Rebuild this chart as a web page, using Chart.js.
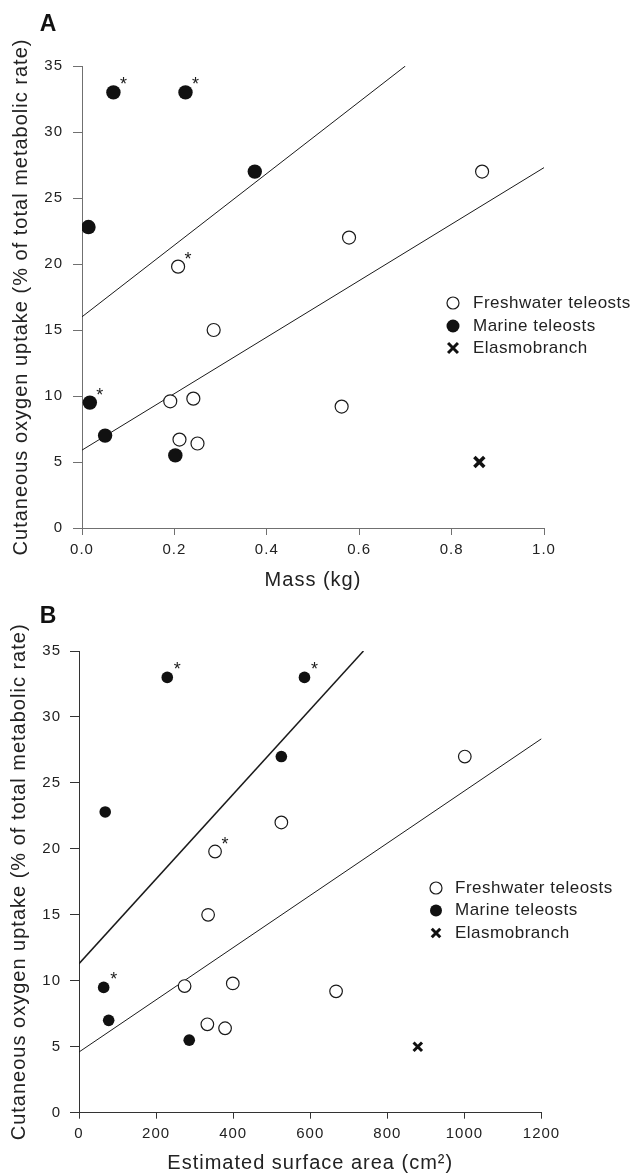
<!DOCTYPE html>
<html>
<head>
<meta charset="utf-8">
<script src="https://cdn.jsdelivr.net/npm/chart.js@4.4.1/dist/chart.umd.min.js"></script>
<style>
  body { margin: 0; background: #fff; }
  canvas { display: block; }
</style>
</head>
<body>
<canvas id="panelA" width="634" height="595"></canvas>
<canvas id="panelB" width="634" height="580"></canvas>
<script>
// uptake values (% of total metabolic rate), same fish in both panels
const freshUptake  = [19.8, 15.0, 9.6, 9.8, 6.7, 6.4, 22.0, 9.2, 27.0];
const marineUptake = [33.0, 33.0, 27.0, 22.8, 9.5, 7.0, 5.5];
const elasmoUptake = [5.0];

// which points carry an asterisk
const freshStar  = [true, false, false, false, false, false, false, false, false];
const marineStar = [true, true, false, false, true, false, false];

// panel A: body mass (kg)
const freshMass  = [0.208, 0.285, 0.191, 0.241, 0.211, 0.250, 0.578, 0.562, 0.866];
const marineMass = [0.068, 0.224, 0.374, 0.014, 0.017, 0.050, 0.202];
const elasmoMass = [0.86];
const lineHighMassX = [0, 0.70];
const lineHighMassY = [16.0, 35.0];
const lineLowMassX  = [0, 1.0];
const lineLowMassY  = [5.9, 27.3];

// panel B: estimated surface area (cm2)
const freshArea  = [353, 335, 274, 399, 333, 379, 525, 667, 1001];
const marineArea = [229, 585, 525, 68, 64, 77, 286];
const elasmoArea = [879];
const lineHighAreaX = [0, 738];
const lineHighAreaY = [11.3, 35.0];
const lineLowAreaX  = [0, 1200];
const lineLowAreaY  = [4.6, 28.35];

const yTicks = [0, 5, 10, 15, 20, 25, 30, 35];
const massTicks = [0, 0.2, 0.4, 0.6, 0.8, 1.0];
const areaTicks = [0, 200, 400, 600, 800, 1000, 1200];

const legendLabels = ['Freshwater teleosts', 'Marine teleosts', 'Elasmobranch'];
const yTitle = 'Cutaneous oxygen uptake (% of total metabolic rate)';

const ink = '#1a1a1a';
Chart.defaults.font.family = "'Liberation Sans', Arial, sans-serif";
Chart.defaults.color = '#222';

const zip = (xs, ys) => xs.map((x, i) => ({x: x, y: ys[i]}));

function drawMarker(ctx, kind, x, y, r, lw) {
  ctx.beginPath();
  if (kind === 'open') {
    ctx.arc(x, y, r, 0, Math.PI * 2);
    ctx.fillStyle = '#fff';
    ctx.fill();
    ctx.lineWidth = 1.2;
    ctx.strokeStyle = ink;
    ctx.stroke();
  } else if (kind === 'filled') {
    ctx.arc(x, y, r, 0, Math.PI * 2);
    ctx.fillStyle = '#111';
    ctx.fill();
  } else {
    const d = r * Math.SQRT1_2;
    ctx.moveTo(x - d, y - d); ctx.lineTo(x + d, y + d);
    ctx.moveTo(x + d, y - d); ctx.lineTo(x - d, y + d);
    ctx.lineWidth = lw;
    ctx.strokeStyle = '#111';
    ctx.stroke();
  }
}

const extras = {
  id: 'extras',
  beforeDraw(chart) {
    chart.ctx.letterSpacing = '1px';
  },
  afterDatasetsDraw(chart, args, o) {
    const ctx = chart.ctx;
    ctx.save();
    // asterisks next to flagged points
    ctx.fillStyle = ink;
    ctx.font = "18px 'Liberation Sans', Arial, sans-serif";
    ctx.letterSpacing = '0px';
    ctx.textAlign = 'center';
    ctx.textBaseline = 'alphabetic';
    chart.data.datasets.forEach((ds, i) => {
      if (!ds.stars) return;
      chart.getDatasetMeta(i).data.forEach((pt, j) => {
        if (ds.stars[j]) ctx.fillText('*', pt.x + 10, pt.y - 12 + 10);
      });
    });
    // legend
    const kinds = ['open', 'filled', 'cross'];
    ctx.font = "17px 'Liberation Sans', Arial, sans-serif";
    ctx.letterSpacing = '0.5px';
    ctx.textAlign = 'left';
    ctx.textBaseline = 'middle';
    o.rows.forEach((y, i) => {
      drawMarker(ctx, kinds[i], o.mx, y, o.legR[i], o.crossW);
      ctx.fillStyle = '#222';
      ctx.fillText(legendLabels[i], o.tx, y);
    });
    // panel letter
    ctx.letterSpacing = '0px';
    ctx.font = "bold 23px 'Liberation Sans', Arial, sans-serif";
    ctx.textAlign = 'center';
    ctx.fillStyle = '#111';
    ctx.fillText(o.letter, o.lx, o.ly);
    ctx.restore();
  }
};

function makePanel(id, p) {
  new Chart(document.getElementById(id), {
    type: 'scatter',
    data: {
      datasets: [
        {
          label: legendLabels[0], data: zip(p.freshX, freshUptake), stars: freshStar,
          pointRadius: p.openR, pointBackgroundColor: '#fff', pointBorderColor: ink,
          pointBorderWidth: 1.2, order: 1
        },
        {
          label: legendLabels[1], data: zip(p.marineX, marineUptake), stars: marineStar,
          pointRadius: p.filledR, pointBackgroundColor: '#111', pointBorderColor: '#111',
          pointBorderWidth: 0, order: 1
        },
        {
          label: legendLabels[2], data: zip(p.elasmoX, elasmoUptake),
          pointStyle: 'crossRot', pointRadius: p.crossR, pointBorderColor: '#111',
          pointBorderWidth: p.crossW, order: 1
        },
        {
          data: zip(p.highX, p.highY), showLine: true, pointRadius: 0,
          borderColor: ink, borderWidth: p.highW, order: 2
        },
        {
          data: zip(p.lowX, p.lowY), showLine: true, pointRadius: 0,
          borderColor: ink, borderWidth: 1, order: 2
        }
      ]
    },
    options: {
      responsive: false,
      animation: false,
      devicePixelRatio: 1,
      events: [],
      layout: { padding: p.pad },
      plugins: {
        legend: { display: false },
        tooltip: { enabled: false },
        extras: p.extras
      },
      scales: {
        x: {
          type: 'linear', min: p.xTicks[0], max: p.xTicks[p.xTicks.length - 1],
          afterBuildTicks: s => { s.ticks = p.xTicks.map(v => ({value: v})); },
          afterFit: s => { s.height = p.xHeight; },
          grid: { drawOnChartArea: false, tickLength: p.xTickLen, color: p.axisColor },
          border: { color: p.axisColor, width: 1 },
          ticks: { font: { size: 15 }, padding: 6, maxRotation: 0, callback: p.xFmt },
          title: { display: true, text: p.xTitle, font: { size: 20 }, padding: { top: 0, bottom: p.xTitlePad } }
        },
        y: {
          type: 'linear', min: 0, max: 35,
          afterBuildTicks: s => { s.ticks = yTicks.map(v => ({value: v})); },
          afterFit: s => { s.width = p.yWidth; },
          grid: { drawOnChartArea: false, tickLength: 9, color: p.axisColor },
          border: { color: p.axisColor, width: 1 },
          ticks: { font: { size: 15 }, padding: p.yTickPad },
          title: { display: true, text: yTitle, font: { size: 20 }, padding: { top: p.yTitlePad, bottom: 0 } }
        }
      }
    },
    plugins: [extras]
  });
}

makePanel('panelA', {
  freshX: freshMass, marineX: marineMass, elasmoX: elasmoMass,
  highX: lineHighMassX, highY: lineHighMassY, lowX: lineLowMassX, lowY: lineLowMassY,
  xTicks: massTicks, xFmt: v => v.toFixed(1), xTitle: 'Mass (kg)',
  openR: 6.5, filledR: 7.2, crossR: 7, crossW: 3.5, highW: 1,
  axisColor: '#707070', xTickLen: 7, yTickPad: 10,
  pad: { left: 0, top: 66, right: 90, bottom: 0 }, yWidth: 82, xHeight: 67,
  xTitlePad: 3, yTitlePad: 9,
  extras: { mx: 453, tx: 473, rows: [303, 326, 348], legR: [6, 6.5, 7], crossW: 3,
            letter: 'A', lx: 48, ly: 25 }
});

makePanel('panelB', {
  freshX: freshArea, marineX: marineArea, elasmoX: elasmoArea,
  highX: lineHighAreaX, highY: lineHighAreaY, lowX: lineLowAreaX, lowY: lineLowAreaY,
  xTicks: areaTicks, xFmt: v => String(v), xTitle: 'Estimated surface area (cm²)',
  openR: 6.3, filledR: 5.8, crossR: 6, crossW: 3, highW: 1.5,
  axisColor: '#333', xTickLen: 6, yTickPad: 9,
  pad: { left: 0, top: 56, right: 92.5, bottom: 0 }, yWidth: 79, xHeight: 62.3,
  xTitlePad: 0, yTitlePad: 7,
  extras: { mx: 436, tx: 455, rows: [293, 315.5, 338], legR: [6, 6, 6], crossW: 3,
            letter: 'B', lx: 48, ly: 22 }
});
</script>
</body>
</html>
